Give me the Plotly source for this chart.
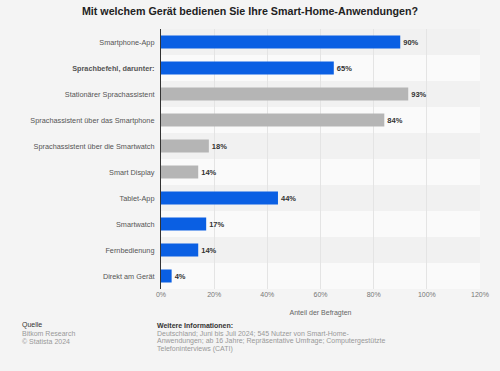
import plotly.graph_objects as go

categories = [
    "Smartphone-App",
    "<b>Sprachbefehl, darunter:</b>",
    "Stationärer Sprachassistent",
    "Sprachassistent über das Smartphone",
    "Sprachassistent über die Smartwatch",
    "Smart Display",
    "Tablet-App",
    "Smartwatch",
    "Fernbedienung",
    "Direkt am Gerät",
]
values = [90, 65, 93, 84, 18, 14, 44, 17, 14, 4]
bar_colors = ["#0a5fe3", "#0a5fe3", "#b5b5b5", "#b5b5b5", "#b5b5b5",
              "#b5b5b5", "#0a5fe3", "#0a5fe3", "#0a5fe3", "#0a5fe3"]
x_ticks = [0, 20, 40, 60, 80, 100, 120]
x_ticklabels = ["0%", "20%", "40%", "60%", "80%", "100%", "120%"]

source_lines = ["Bitkom Research", "© Statista 2024"]
info_lines = [
    "Deutschland; Juni bis Juli 2024; 545 Nutzer von Smart-Home-",
    "Anwendungen; ab 16 Jahre; Repräsentative Umfrage; Computergestützte",
    "Telefoninterviews (CATI)",
]

font_family = "Liberation Sans, Arial, sans-serif"
W, H = 500, 371
ML, MR, MT, MB = 161, 20, 29, 82

fig = go.Figure()
fig.add_trace(go.Bar(
    x=values,
    y=categories,
    orientation="h",
    marker=dict(color=bar_colors, line=dict(width=0)),
    text=[f"<b>{v}%</b>" for v in values],
    textposition="outside",
    textfont=dict(family=font_family, size=7.5, color="#333333"),
    cliponaxis=False,
    hoverinfo="skip",
))

shapes = []
for i in range(len(categories)):
    shapes.append(dict(
        type="rect", xref="paper", yref="y",
        x0=0, x1=1, y0=i - 0.5, y1=i + 0.5,
        fillcolor="#f1f1f1" if i % 2 == 0 else "#fafafa",
        line=dict(width=0), layer="below",
    ))

fig.update_layout(
    width=W, height=H,
    margin=dict(l=ML, r=MR, t=MT, b=MB, autoexpand=False),
    paper_bgcolor="#f4f4f4",
    plot_bgcolor="rgba(0,0,0,0)",
    bargap=0.5,
    showlegend=False,
    shapes=shapes,
    font=dict(family=font_family),
    title=dict(
        text="<b>Mit welchem Gerät bedienen Sie Ihre Smart-Home-Anwendungen?</b>",
        x=0.5, xanchor="center", y=1 - 11 / H, yanchor="middle",
        font=dict(size=10.7, color="#222222", family=font_family),
    ),
    xaxis=dict(
        range=[0, 120], tickvals=x_ticks, ticktext=x_ticklabels,
        showgrid=True, gridcolor="#e4e4e4", gridwidth=1,
        zeroline=False, showline=False, ticks="",
        tickfont=dict(size=7, color="#777777"),
        title=dict(text="Anteil der Befragten", font=dict(size=7, color="#666666"), standoff=13),
    ),
    yaxis=dict(
        autorange="reversed",
        showline=True, linecolor="#333333", linewidth=1,
        showgrid=False, ticks="", ticksuffix="  ",
        tickfont=dict(size=7.3, color="#555555"),
    ),
)


def add_text(text, px, py, color, size=7):
    fig.add_annotation(
        text=text, xref="paper", yref="paper",
        x=(px - ML) / (W - ML - MR), y=(H - py - MB) / (H - MT - MB),
        xanchor="left", yanchor="middle",
        showarrow=False, align="left",
        font=dict(family=font_family, size=size, color=color),
    )


add_text("Quelle", 20, 325, "#333333")
for k, line in enumerate(source_lines):
    add_text(line, 20, 333 + 8 * k, "#999999")
add_text("<b>Weitere Informationen:</b>", 155, 325, "#333333")
for k, line in enumerate(info_lines):
    add_text(line, 155, 333 + 8 * k, "#999999")

fig.write_html("out.html", config={"displayModeBar": False},
               post_script="document.body.style.margin='0';")
